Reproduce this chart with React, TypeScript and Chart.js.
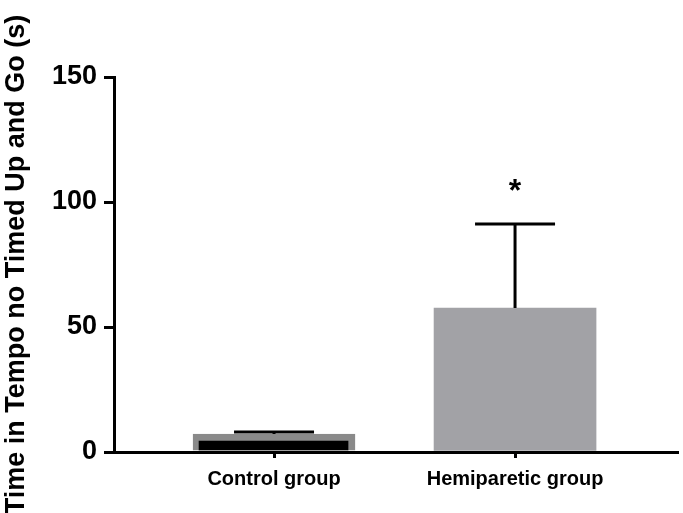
import React, { useEffect, useRef } from "react";
import { Chart, registerables } from "chart.js";

Chart.register(...registerables);

const categories = ["Control group", "Hemiparetic group"];
const xPositions = [1, 2];
const meanValues = [7.2, 57.6];
const errorValues = [0.8, 33.6];
const significance = ["", "*"];
const yTickValues = [0, 50, 100, 150];
const yTitle = "Time in Tempo no Timed Up and Go (s)";

const FONT = "'Liberation Sans', Arial, Helvetica, sans-serif";

const errorBarPlugin = {
  id: "errorBars",
  afterDatasetsDraw(chart: any) {
    const ctx = chart.ctx;
    const xs = chart.scales.x;
    const ys = chart.scales.y;
    ctx.save();
    ctx.strokeStyle = "#000";
    ctx.lineWidth = 3;
    ctx.lineCap = "butt";
    xPositions.forEach((xv, i) => {
      const x = xs.getPixelForValue(xv);
      const yBase = ys.getPixelForValue(meanValues[i]);
      const yTop = ys.getPixelForValue(meanValues[i] + errorValues[i]);
      ctx.beginPath();
      ctx.moveTo(x, yBase);
      ctx.lineTo(x, yTop);
      ctx.stroke();
      ctx.beginPath();
      ctx.moveTo(x - 40, yTop);
      ctx.lineTo(x + 40, yTop);
      ctx.stroke();
      if (significance[i]) {
        ctx.fillStyle = "#000";
        ctx.font = `bold 32px ${FONT}`;
        ctx.textAlign = "center";
        ctx.textBaseline = "alphabetic";
        ctx.fillText(significance[i], x, yTop - 23);
      }
    });
    ctx.restore();
  },
};

export default function App() {
  const canvasRef = useRef<HTMLCanvasElement>(null);

  useEffect(() => {
    const canvas = canvasRef.current;
    if (!canvas) return;
    const chart = new Chart(canvas, {
      type: "bar",
      data: {
        datasets: [
          {
            data: xPositions.map((x, i) => ({ x, y: meanValues[i] })),
            backgroundColor: ["#000000", "#a2a2a6"],
            borderColor: ["#8a8a8a", "#a2a2a6"],
            borderWidth: [{ top: 7, left: 6, right: 7, bottom: 0 }, 0] as any,
            borderSkipped: false as any,
            barThickness: 162,
          } as any,
        ],
      },
      options: {
        responsive: false,
        animation: false,
        devicePixelRatio: 1,
        layout: { padding: { top: 77, right: 6, left: 0, bottom: 0 } },
        plugins: {
          legend: { display: false },
          tooltip: { enabled: false },
        },
        scales: {
          x: {
            type: "linear",
            offset: false,
            min: 0.336,
            max: 2.672,
            afterBuildTicks: (scale: any) => {
              scale.ticks = xPositions.map((v) => ({ value: v }));
            },
            afterFit: (scale: any) => {
              scale.height = 61;
            },
            ticks: {
              callback: (v: any) => {
                const idx = xPositions.indexOf(Number(v));
                return idx >= 0 ? categories[idx] : "";
              },
              color: "#000",
              font: { family: FONT, size: 20, weight: "bold" },
              padding: 9,
              maxRotation: 0,
              autoSkip: false,
            },
            grid: {
              offset: false,
              drawOnChartArea: false,
              drawTicks: true,
              tickLength: 6,
              color: "#000",
              lineWidth: 3,
            },
            border: { display: true, color: "#000", width: 3 },
          },
          y: {
            type: "linear",
            min: 0,
            max: 150,
            afterBuildTicks: (scale: any) => {
              scale.ticks = yTickValues.map((v) => ({ value: v }));
            },
            afterFit: (scale: any) => {
              scale.width = 114;
            },
            ticks: {
              color: "#000",
              font: { family: FONT, size: 27, weight: "bold" },
              padding: 7,
            },
            grid: {
              drawOnChartArea: false,
              drawTicks: true,
              tickLength: 10,
              color: "#000",
              lineWidth: 3,
            },
            border: { display: true, color: "#000", width: 3 },
            title: {
              display: true,
              text: yTitle,
              color: "#000",
              font: { family: FONT, size: 27, weight: "bold" },
              padding: { top: 0, bottom: 0 },
            },
          },
        },
      },
      plugins: [errorBarPlugin],
    });
    return () => chart.destroy();
  }, []);

  return (
    <div style={{ position: "absolute", left: 0, top: 0, width: 683, height: 513, background: "#fff" }}>
      <canvas ref={canvasRef} width={683} height={513} />
    </div>
  );
}
